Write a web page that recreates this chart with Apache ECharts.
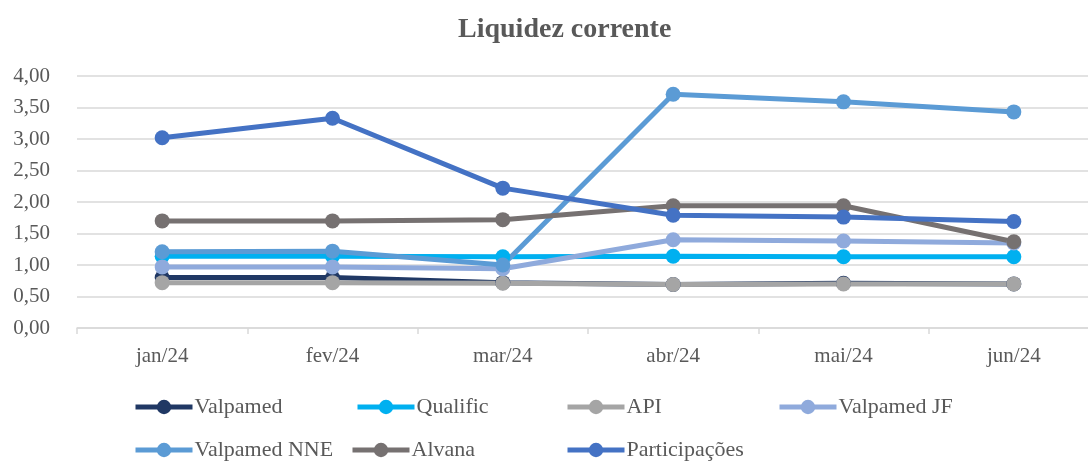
<!DOCTYPE html>
<html><head><meta charset="utf-8">
<script src="https://cdn.jsdelivr.net/npm/echarts@6/dist/echarts.min.js"></script>
<style>html,body{margin:0;padding:0;background:#fff}#c{width:1088px;height:462px}</style>
</head><body><div id="c"></div>
<script>
const categories = ['jan/24','fev/24','mar/24','abr/24','mai/24','jun/24'];
const valpamed = [0.80, 0.80, 0.72, 0.69, 0.71, 0.70];
const qualific = [1.14, 1.14, 1.13, 1.14, 1.13, 1.13];
const api = [0.72, 0.72, 0.71, 0.69, 0.70, 0.70];
const valpamedJF = [0.97, 0.97, 0.94, 1.40, 1.38, 1.35];
const valpamedNNE = [1.21, 1.22, 1.00, 3.71, 3.59, 3.43];
const alvana = [1.70, 1.70, 1.72, 1.94, 1.94, 1.37];
const participacoes = [3.02, 3.33, 2.22, 1.79, 1.76, 1.69];
const yTicks = [0, 0.5, 1, 1.5, 2, 2.5, 3, 3.5, 4];

const seriesDefs = [
  ['Valpamed', valpamed, '#203864'],
  ['Qualific', qualific, '#00B0F0'],
  ['API', api, '#A5A5A5'],
  ['Valpamed JF', valpamedJF, '#8FAADC'],
  ['Valpamed NNE', valpamedNNE, '#5B9BD5'],
  ['Alvana', alvana, '#767171'],
  ['Participações', participacoes, '#4472C4']
];
const legendPos = [[133,396],[355,396],[565,396],[777,396],[133,439],[350,439],[565,439]];
const font = '"Liberation Serif", "DejaVu Serif", serif';
const txt = '#595959';

const chart = echarts.init(document.getElementById('c'), null, {renderer:'canvas'});
chart.setOption({
  animation: false,
  backgroundColor: '#fff',
  title: {
    text: 'Liquidez corrente', left: 453, top: 11,
    textStyle: {fontFamily: font, fontSize: 28, fontWeight: 'bold', color: txt}
  },
  legend: seriesDefs.map((s, i) => ({
    data: [s[0]], left: legendPos[i][0], top: legendPos[i][1],
    itemWidth: 57, itemHeight: 18, itemGap: 0, padding: 0,
    lineStyle: {width: 5},
    textStyle: {fontFamily: font, fontSize: 22, color: txt, padding: [0,0,0,-3]}
  })),
  grid: {left: 77, top: 76, width: 1022, height: 252, containLabel: false, outerBoundsMode: 'none'},
  xAxis: {
    type: 'category', data: categories, boundaryGap: true,
    axisLine: {show: true, lineStyle: {color: '#D9D9D9', width: 1.5}},
    axisTick: {show: true, length: 6, lineStyle: {color: '#D9D9D9', width: 1.5}},
    axisLabel: {fontFamily: font, fontSize: 21, color: txt, margin: 18}
  },
  yAxis: {
    type: 'value', min: 0, max: 4, interval: 0.5,
    axisLine: {show: false}, axisTick: {show: false},
    splitLine: {lineStyle: {color: '#D9D9D9', width: 1.5}},
    axisLabel: {fontFamily: font, fontSize: 21, color: txt, margin: 27,
      formatter: v => yTicks.includes(v) ? v.toFixed(2).replace('.', ',') : ''}
  },
  series: seriesDefs.map(s => ({
    name: s[0], type: 'line', data: s[1],
    symbol: 'circle', symbolSize: 15,
    lineStyle: {width: 5, color: s[2]},
    itemStyle: {color: s[2]},
    emphasis: {disabled: true}
  }))
});
</script></body></html>
